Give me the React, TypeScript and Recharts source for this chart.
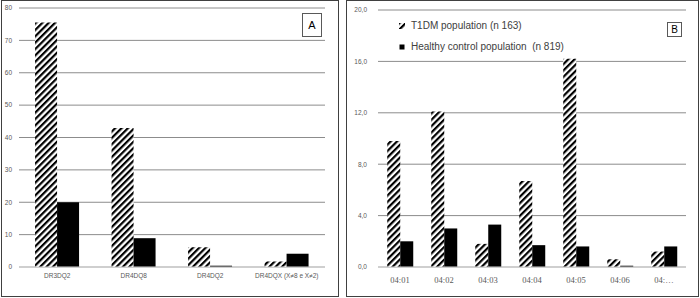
import React from 'react';
import { BarChart, Bar, XAxis, YAxis, CartesianGrid } from 'recharts';

// panel A
const haplotypes = ['DR3DQ2', 'DR4DQ8', 'DR4DQ2', 'DR4DQX (X≠8 e X≠2)'];
const t1dmA = [75.5, 42.9, 6.1, 1.7];
const controlA = [20.0, 8.9, 0.4, 4.1];
const ticksA = [0, 10, 20, 30, 40, 50, 60, 70, 80];

// panel B
const subtypes = ['04:01', '04:02', '04:03', '04:04', '04:05', '04:06', '04:…'];
const t1dmB = [9.8, 12.1, 1.8, 6.7, 16.2, 0.6, 1.2];
const controlB = [2.0, 3.0, 3.3, 1.7, 1.6, 0.1, 1.6];
const ticksB = [0, 4, 8, 12, 16, 20];

const seriesNames = ['T1DM population (n 163)', 'Healthy control population  (n 819)'];

const dataA = haplotypes.map((name, i) => ({ name, t1dm: t1dmA[i], control: controlA[i] }));
const dataB = subtypes.map((name, i) => ({ name, t1dm: t1dmB[i], control: controlB[i] }));

const gridColor = '#8c8c8c';
const labelColor = '#595959';
const sans = '"Liberation Sans", Arial, sans-serif';

function Hatch() {
  return (
    <svg width={0} height={0} style={{ position: 'absolute' }}>
      <defs>
        <pattern
          id="hatch"
          patternUnits="userSpaceOnUse"
          width={4.5}
          height={4.5}
          patternTransform="rotate(45)"
        >
          <rect x={0} y={0} width={4.5} height={4.5} fill="#fff" />
          <rect x={0} y={0} width={2.2} height={4.5} fill="#000" />
        </pattern>
      </defs>
    </svg>
  );
}

function SerifTick({ x, y, payload }: any) {
  return (
    <text
      x={x}
      y={y + 14}
      textAnchor="middle"
      fill={labelColor}
      stroke="none"
      fontSize={8.5}
      fontFamily="Liberation Serif, serif"
    >
      {payload.value}
    </text>
  );
}

function PanelLabel({ text, left, top, w, h, size }: any) {
  return (
    <div
      style={{
        position: 'absolute',
        left,
        top,
        width: w,
        height: h,
        border: '1px solid #595959',
        boxSizing: 'border-box',
        background: '#fff',
        fontFamily: sans,
        fontSize: size,
        color: '#000',
        display: 'flex',
        alignItems: 'center',
        justifyContent: 'center',
      }}
    >
      {text}
    </div>
  );
}

export default function App() {
  const fmtB = (v: number) => v.toFixed(1).replace('.', ',');
  return (
    <div style={{ position: 'absolute', left: 0, top: 0, width: 700, height: 298, background: '#fff' }}>
      <Hatch />
      {/* panel A */}
      <div
        style={{
          position: 'absolute',
          left: 1,
          top: 0,
          width: 338,
          height: 297,
          border: '1px solid #404040',
          boxSizing: 'border-box',
        }}
      />
      <div style={{ position: 'absolute', left: 0, top: 0 }}>
        <BarChart
          width={338}
          height={298}
          data={dataA}
          margin={{ top: 8, right: 13, bottom: 1, left: 0 }}
          barGap={0}
          barCategoryGap="21%"
        >
          <CartesianGrid vertical={false} stroke={gridColor} />
          <XAxis
            dataKey="name"
            height={30}
            axisLine={{ stroke: '#d9d9d9' }}
            tickLine={false}
            tickSize={0}
            tickMargin={6}
            interval={0}
            tick={{ fontSize: 6.5, fill: labelColor, fontFamily: sans }}
          />
          <YAxis
            width={19}
            domain={[0, 80]}
            ticks={ticksA}
            axisLine={false}
            tickLine={false}
            tickMargin={1}
            tick={{ fontSize: 6.5, fill: labelColor, fontFamily: sans }}
          />
          <Bar dataKey="t1dm" fill="url(#hatch)" isAnimationActive={false} />
          <Bar dataKey="control" fill="#000" isAnimationActive={false} />
        </BarChart>
      </div>
      <PanelLabel text="A" left={302} top={13} w={20} h={24} size={11} />

      {/* panel B */}
      <div
        style={{
          position: 'absolute',
          left: 346,
          top: 0,
          width: 353,
          height: 297,
          border: '1px solid #404040',
          boxSizing: 'border-box',
        }}
      />
      <div style={{ position: 'absolute', left: 346, top: 0 }}>
        <BarChart
          width={352}
          height={298}
          data={dataB}
          margin={{ top: 10, right: 12, bottom: 1, left: 0 }}
          barGap={0}
          barCategoryGap="21%"
        >
          <CartesianGrid vertical={false} stroke={gridColor} />
          <XAxis
            dataKey="name"
            height={30}
            axisLine={{ stroke: '#d9d9d9' }}
            tickLine={false}
            tickSize={0}
            interval={0}
            tick={<SerifTick />}
          />
          <YAxis
            width={32}
            domain={[0, 20]}
            ticks={ticksB}
            tickFormatter={fmtB}
            axisLine={false}
            tickLine={false}
            tickMargin={5}
            tick={{ fontSize: 6.5, fill: labelColor, fontFamily: sans }}
          />
          <Bar dataKey="t1dm" name={seriesNames[0]} fill="url(#hatch)" isAnimationActive={false} />
          <Bar dataKey="control" name={seriesNames[1]} fill="#000" isAnimationActive={false} />
        </BarChart>
      </div>
      <div
        style={{
          position: 'absolute',
          left: 399,
          top: 15,
          fontFamily: sans,
          fontSize: 10,
          color: '#404040',
          lineHeight: '21px',
        }}
      >
        {seriesNames.map((n, i) => (
          <div key={n} style={{ display: 'flex', alignItems: 'center', whiteSpace: 'pre' }}>
            <svg width={12} height={8}>
              {i === 0 ? (
                <rect x={0} y={1} width={6} height={6} fill="url(#hatch)" />
              ) : (
                <rect x={0.5} y={1.5} width={5} height={5} fill="#000" />
              )}
            </svg>
            <span>{n}</span>
          </div>
        ))}
      </div>
      <PanelLabel text="B" left={667} top={22} w={15} h={15} size={10} />
    </div>
  );
}
